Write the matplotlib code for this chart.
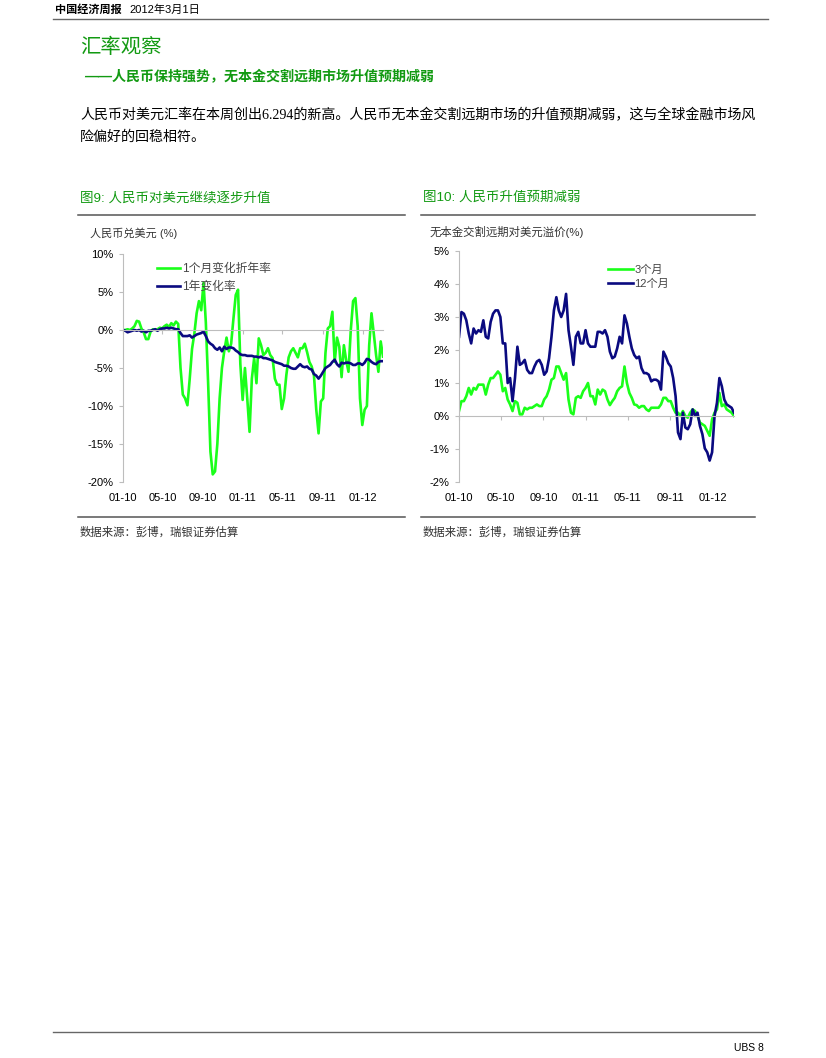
import numpy as np
import pandas as pd
import matplotlib
matplotlib.use('Agg')
import matplotlib.pyplot as plt

CJK = ['Liberation Sans', 'Noto Sans CJK SC']
SERIF = ['Liberation Serif', 'Noto Sans CJK SC']
plt.rcParams['font.family'] = CJK

# weekly observations, Jan 2010 - Feb 2012
dates = pd.date_range('2010-01-01', periods=114, freq='7D')

# fig 9: CNY vs USD (%)
cny_1m_ann = [
    0.0, 0.0, 0.1, 0.0, 0.2, 0.5, 1.2, 1.1, 0.2, -0.3,
    -1.2, -1.2, -0.2, 0.1, 0.0, 0.1, 0.3, 0.2, 0.5, 0.7,
    0.4, 0.9, 0.6, 1.1, 0.8, -5.0, -8.5, -9.0, -9.9, -6.4,
    -2.5, -0.5, 2.2, 3.8, 2.6, 6.2, 1.0, -7.0, -16.0, -19.0,
    -18.6, -15.0, -9.0, -5.0, -2.8, -1.0, -2.8, -1.8, 1.5, 4.6,
    5.3, -4.5, -9.2, -5.0, -9.0, -13.4, -6.4, -3.7, -7.0, -1.1,
    -2.0, -3.3, -3.0, -2.4, -3.3, -3.7, -6.4, -7.2, -7.2, -10.4,
    -9.0, -5.9, -3.6, -2.8, -2.4, -3.0, -3.6, -2.4, -2.4, -1.8,
    -2.9, -4.2, -4.8, -6.0, -10.5, -13.6, -9.4, -9.0, -3.0, 0.2,
    0.5, 2.4, -4.2, -1.0, -2.2, -6.2, -2.0, -4.0, -5.5, 0.0,
    3.8, 4.2, 0.5, -9.0, -12.5, -10.5, -10.0, -2.0, 2.2, -0.5,
    -3.3, -5.5, -1.5, -3.5,
]
cny_1y = [
    0.0, -0.1, -0.3, -0.2, -0.1, 0.0, -0.1, 0.0, -0.2, -0.1,
    -0.3, -0.1, -0.1, 0.0, 0.1, -0.1, 0.1, 0.2, 0.2, 0.3,
    0.2, 0.3, 0.2, 0.1, 0.1, -0.4, -0.8, -0.8, -0.8, -0.7,
    -1.0, -0.8, -0.6, -0.5, -0.4, -0.2, -0.8, -1.5, -1.8, -2.0,
    -2.4, -2.6, -2.3, -2.8, -2.2, -2.5, -2.3, -2.3, -2.4, -2.7,
    -2.9, -3.2, -3.3, -3.3, -3.4, -3.4, -3.4, -3.5, -3.5, -3.6,
    -3.5, -3.7, -3.7, -3.8, -3.9, -4.0, -4.2, -4.3, -4.4, -4.5,
    -4.7, -4.7, -4.8, -5.0, -5.1, -5.1, -4.8, -4.5, -4.8, -4.9,
    -4.8, -5.1, -5.2, -5.8, -6.0, -6.4, -6.0, -5.5, -5.0, -4.8,
    -4.6, -4.2, -3.9, -4.5, -4.8, -4.3, -4.4, -4.3, -4.3, -4.4,
    -4.6, -4.6, -4.4, -4.4, -4.6, -4.3, -3.8, -3.9, -4.2, -4.4,
    -4.5, -4.2, -4.1, -4.1,
]

# fig 10: NDF premium vs USD (%)
ndf_3m = [
    0.15, 0.45, 0.45, 0.6, 0.85, 0.65, 0.85, 0.8, 0.95, 0.95,
    0.95, 0.65, 0.95, 1.15, 1.15, 1.25, 1.35, 1.25, 0.75, 0.85,
    0.5, 0.35, 0.15, 0.45, 0.4, 0.05, 0.05, 0.25, 0.2, 0.25,
    0.25, 0.3, 0.35, 0.3, 0.3, 0.5, 0.6, 0.8, 1.1, 1.15,
    1.5, 1.5, 1.3, 1.1, 1.3, 0.5, 0.1, 0.05, 0.55, 0.6,
    0.55, 0.75, 0.85, 1.0, 0.6, 0.6, 0.35, 0.8, 0.65, 0.8,
    0.75, 0.5, 0.33, 0.45, 0.55, 0.75, 0.85, 0.9, 1.5, 1.0,
    0.7, 0.55, 0.35, 0.33, 0.25, 0.3, 0.3, 0.2, 0.15, 0.25,
    0.25, 0.25, 0.25, 0.35, 0.55, 0.55, 0.45, 0.45, 0.25, 0.1,
    0.1, 0.0, 0.15, 0.0, -0.05, 0.1, 0.2, 0.15, 0.0, -0.2,
    -0.25, -0.3, -0.45, -0.6, -0.1, 0.1, 0.2, 0.7, 0.3, 0.35,
    0.2, 0.15, 0.1, 0.0,
]
ndf_12m = [
    2.4, 3.15, 3.1, 2.9, 2.5, 2.2, 2.65, 2.5, 2.6, 2.55,
    2.9, 2.4, 2.35, 2.85, 3.1, 3.2, 3.2, 3.0, 2.2, 2.2,
    1.0, 1.15, 0.45, 1.15, 2.1, 1.55, 1.6, 1.7, 1.4, 1.3,
    1.3, 1.5, 1.65, 1.7, 1.55, 1.25, 1.35, 1.75, 2.4, 3.2,
    3.6, 3.2, 3.0, 3.2, 3.7, 2.6, 2.1, 1.55, 2.4, 2.55,
    2.2, 2.2, 2.6, 2.2, 2.1, 2.1, 2.1, 2.55, 2.55, 2.5,
    2.6, 2.4, 1.95, 1.75, 1.8, 2.05, 2.4, 2.2, 3.05, 2.8,
    2.4, 2.05, 1.85, 1.75, 1.8, 1.45, 1.3, 1.3, 1.25, 1.05,
    1.1, 1.1, 1.05, 0.8, 1.95, 1.8, 1.6, 1.5, 1.15, 0.6,
    -0.5, -0.7, 0.1, -0.35, -0.4, -0.25, 0.2, 0.0, 0.1, -0.3,
    -0.55, -0.98, -1.1, -1.35, -1.1, 0.0, 0.4, 1.15, 0.9, 0.5,
    0.35, 0.3, 0.25, 0.1,
]

tick_dates = pd.to_datetime(['2010-01-01', '2010-05-01', '2010-09-01', '2011-01-01',
                             '2011-05-01', '2011-09-01', '2012-01-01'])
tick_labels = ['01-10', '05-10', '09-10', '01-11', '05-11', '09-11', '01-12']

GREEN_TXT = '#129a12'
LINE_GREEN = '#1aff1a'
LINE_NAVY = '#0a0a80'

W, H = 826, 1058
fig = plt.figure(figsize=(W / 100, H / 100), dpi=100)


def fx(px):
    return px / W


def fy(py):
    return 1 - py / H


def hline(x0, x1, y, lw=1.0, color='#555555'):
    fig.add_artist(plt.Line2D([fx(x0), fx(x1)], [fy(y), fy(y)], color=color, lw=lw))


# page header / footer
fig.text(fx(55), fy(10), '中国经济周报', fontsize=8, weight='bold', va='center', family=CJK)
fig.text(fx(129), fy(10), '2012年3月1日', fontsize=8, va='center', family=CJK)
hline(53, 768, 19, lw=1.0, color='#666666')
hline(53, 768, 1032, lw=1.0, color='#666666')
fig.text(fx(764), fy(1048), 'UBS 8', fontsize=7.5, ha='right', va='center')

fig.text(fx(80), fy(47), '汇率观察', fontsize=14.7, color=GREEN_TXT, va='center', family=CJK)
fig.text(fx(84), fy(77), '——人民币保持强势，无本金交割远期市场升值预期减弱', fontsize=10.1,
         color=GREEN_TXT, va='center', weight='bold', style='italic', family=CJK)
fig.text(fx(80), fy(115), '人民币对美元汇率在本周创出6.294的新高。人民币无本金交割远期市场的升值预期减弱，这与全球金融市场风',
         fontsize=10.1, va='center', family=SERIF)
fig.text(fx(80), fy(137), '险偏好的回稳相符。', fontsize=10.1, va='center', family=SERIF)

# chart headings and rules
fig.text(fx(80), fy(198), '图9: 人民币对美元继续逐步升值', fontsize=9.7, color=GREEN_TXT, va='center')
fig.text(fx(423), fy(198), '图10: 人民币升值预期减弱', fontsize=9.7, color=GREEN_TXT, va='center')
hline(78, 405, 215, lw=1.1)
hline(421, 755, 215, lw=1.1)
hline(78, 405, 517, lw=1.1)
hline(421, 755, 517, lw=1.1)
fig.text(fx(90), fy(233), '人民币兑美元 (%)', fontsize=8, va='center', color='#333333')
fig.text(fx(430), fy(232), '无本金交割远期对美元溢价(%)', fontsize=8.2, va='center', color='#333333')
fig.text(fx(80), fy(532), '数据来源：彭博，瑞银证券估算', fontsize=8.2, va='center', color='#333333')
fig.text(fx(423), fy(532), '数据来源：彭博，瑞银证券估算', fontsize=8.2, va='center', color='#333333')


def style_axes(ax, ylo, yhi, step):
    ax.set_xlim(dates[0], dates[-1])
    ax.set_ylim(ylo, yhi)
    ax.set_yticks(np.arange(ylo, yhi + 0.01, step))
    ax.set_yticklabels([f'{v:.0f}%' for v in np.arange(ylo, yhi + 0.01, step)])
    for s in ['top', 'right']:
        ax.spines[s].set_visible(False)
    ax.spines['left'].set_color('#bdbdbd')
    ax.spines['left'].set_linewidth(0.8)
    ax.spines['bottom'].set_position(('data', 0))
    ax.spines['bottom'].set_color('#bdbdbd')
    ax.spines['bottom'].set_linewidth(0.8)
    ax.set_xticks(tick_dates)
    ax.tick_params(axis='x', labelbottom=False, length=3, color='#bdbdbd', width=0.8)
    ax.tick_params(axis='y', length=3, color='#bdbdbd', width=0.8, labelsize=8, pad=4)
    for d, lab in zip(tick_dates, tick_labels):
        ax.text(d, -16 / (ax.get_position().height * H), lab, transform=ax.get_xaxis_transform(),
                ha='center', va='center', fontsize=8)
    ax.patch.set_alpha(0)


# fig 9
ax1 = fig.add_axes([fx(123), fy(482), (383 - 123) / W, (482 - 254) / H])
ax1.plot(dates, cny_1m_ann, color=LINE_GREEN, lw=1.9, label='1个月变化折年率')
ax1.plot(dates, cny_1y, color=LINE_NAVY, lw=1.9, label='1年变化率')
style_axes(ax1, -20, 10, 5)
ax1.legend(loc='upper left', bbox_to_anchor=(0.13, 0.962), frameon=False, fontsize=8.5,
           handlelength=2.0, handletextpad=0.15, labelspacing=0.55, borderpad=0, borderaxespad=0,
           labelcolor='#444444')

# fig 10
ax2 = fig.add_axes([fx(459), fy(482), (734 - 459) / W, (482 - 251) / H])
ax2.plot(dates, ndf_3m, color=LINE_GREEN, lw=1.9, label='3个月')
ax2.plot(dates, ndf_12m, color=LINE_NAVY, lw=1.9, label='12个月')
style_axes(ax2, -2, 5, 1)
ax2.legend(loc='upper left', bbox_to_anchor=(0.54, 0.943), frameon=False, fontsize=8,
           handlelength=2.3, handletextpad=0.1, labelspacing=0.35, borderpad=0, borderaxespad=0,
           labelcolor='#444444')

fig.savefig('out.png', dpi=100)
